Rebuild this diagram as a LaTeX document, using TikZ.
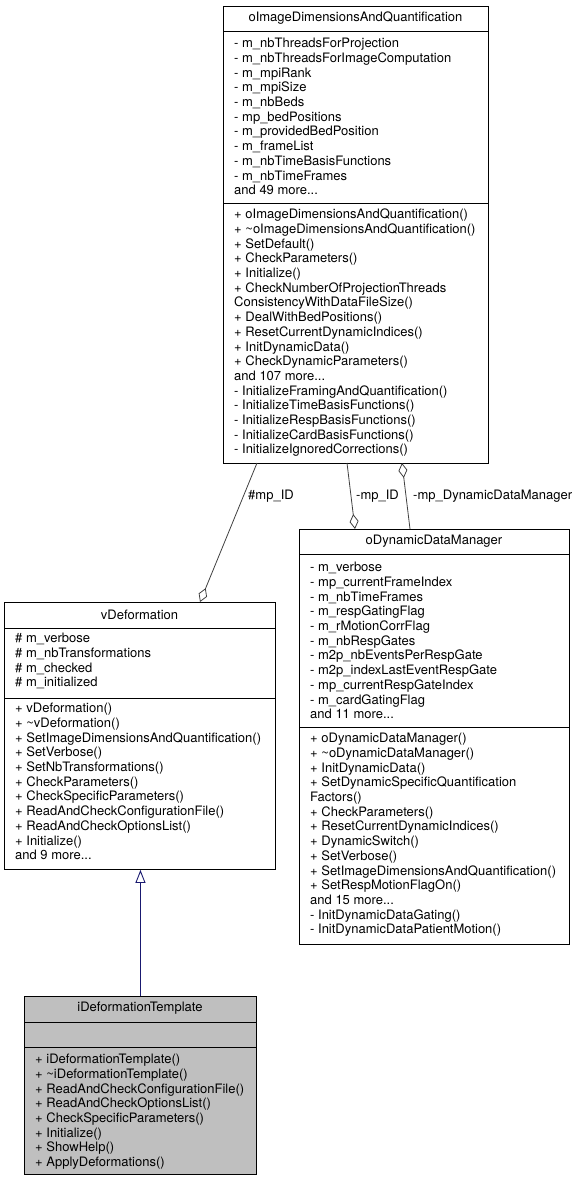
\documentclass[tikz,border=0pt]{standalone}
\usepackage{fontspec}
\setmainfont{TeX Gyre Heros}
\usetikzlibrary{arrows.meta}
\definecolor{edgegray}{HTML}{404040}
\definecolor{inhblue}{HTML}{191970}
\definecolor{boxgray}{HTML}{BFBFBF}
\newcommand\firstln{\rule{0pt}{11pt}}
\begin{document}
\begin{tikzpicture}[x=1pt,y=-1pt,
  every node/.style={font=\fontsize{13}{14.7}\selectfont, text=black},
  umlbox/.style={draw=black, line width=0.9pt, inner sep=0pt, anchor=north west, fill=white},
  sepline/.style={draw=black, line width=0.9pt},
  ttl/.style={anchor=base, inner sep=0pt},
  txt/.style={anchor=north west, align=left, inner sep=0pt},
  lbl/.style={anchor=base west, inner sep=0pt},
  agg/.style={draw=edgegray, line width=0.8pt, -{Diamond[open, length=15pt, width=9pt, line width=0.8pt]}},
  inh/.style={draw=inhblue, line width=0.9pt, -{Triangle[open, length=13pt, width=10pt, line width=0.9pt]}}
]
\useasboundingbox (0,0) rectangle (577,1181);

% ---------- oImageDimensionsAndQuantification ----------
\node[umlbox, minimum width=265pt, minimum height=457pt] (idq) at (223,6) {};
\draw[sepline] (idq.west |- 0,31) -- (idq.east |- 0,31);
\draw[sepline] (idq.west |- 0,203) -- (idq.east |- 0,203);
\node[ttl] (idqt) at (355.5,21.5) {oImageDimensionsAndQuantification};
\node[txt] (idqa) at (234,36.5) {\firstln- m\_nbThreadsForProjection\\
- m\_nbThreadsForImageComputation\\
- m\_mpiRank\\
- m\_mpiSize\\
- m\_nbBeds\\
- mp\_bedPositions\\
- m\_providedBedPosition\\
- m\_frameList\\
- m\_nbTimeBasisFunctions\\
- m\_nbTimeFrames\\
and 49 more...};
\node[txt] (idqm) at (234,207.5) {\firstln+ oImageDimensionsAndQuantification()\\
+ \textasciitilde oImageDimensionsAndQuantification()\\
+ SetDefault()\\
+ CheckParameters()\\
+ Initialize()\\
+ CheckNumberOfProjectionThreads\\
ConsistencyWithDataFileSize()\\
+ DealWithBedPositions()\\
+ ResetCurrentDynamicIndices()\\
+ InitDynamicData()\\
+ CheckDynamicParameters()\\
and 107 more...\\
- InitializeFramingAndQuantification()\\
- InitializeTimeBasisFunctions()\\
- InitializeRespBasisFunctions()\\
- InitializeCardBasisFunctions()\\
- InitializeIgnoredCorrections()};

% ---------- vDeformation ----------
\node[umlbox, minimum width=271pt, minimum height=267pt] (vdef) at (4,602) {};
\draw[sepline] (vdef.west |- 0,628) -- (vdef.east |- 0,628);
\draw[sepline] (vdef.west |- 0,698) -- (vdef.east |- 0,698);
\node[ttl] (vdeft) at (139.5,619.5) {vDeformation};
\node[txt] (vdefa) at (15,631.5) {\firstln\# m\_verbose\\
\# m\_nbTransformations\\
\# m\_checked\\
\# m\_initialized};
\node[txt] (vdefm) at (15,701.5) {\firstln+ vDeformation()\\
+ \textasciitilde vDeformation()\\
+ SetImageDimensionsAndQuantification()\\
+ SetVerbose()\\
+ SetNbTransformations()\\
+ CheckParameters()\\
+ CheckSpecificParameters()\\
+ ReadAndCheckConfigurationFile()\\
+ ReadAndCheckOptionsList()\\
+ Initialize()\\
and 9 more...};

% ---------- oDynamicDataManager ----------
\node[umlbox, minimum width=270pt, minimum height=415pt] (odm) at (299,529) {};
\draw[sepline] (odm.west |- 0,554) -- (odm.east |- 0,554);
\draw[sepline] (odm.west |- 0,727) -- (odm.east |- 0,727);
\node[ttl] (odmt) at (434,544.5) {oDynamicDataManager};
\node[txt] (odma) at (310,560.5) {\firstln- m\_verbose\\
- mp\_currentFrameIndex\\
- m\_nbTimeFrames\\
- m\_respGatingFlag\\
- m\_rMotionCorrFlag\\
- m\_nbRespGates\\
- m2p\_nbEventsPerRespGate\\
- m2p\_indexLastEventRespGate\\
- mp\_currentRespGateIndex\\
- m\_cardGatingFlag\\
and 11 more...};
\node[txt] (odmm) at (310,731.5) {\firstln+ oDynamicDataManager()\\
+ \textasciitilde oDynamicDataManager()\\
+ InitDynamicData()\\
+ SetDynamicSpecificQuantification\\
Factors()\\
+ CheckParameters()\\
+ ResetCurrentDynamicIndices()\\
+ DynamicSwitch()\\
+ SetVerbose()\\
+ SetImageDimensionsAndQuantification()\\
+ SetRespMotionFlagOn()\\
and 15 more...\\
- InitDynamicDataGating()\\
- InitDynamicDataPatientMotion()};

% ---------- iDeformationTemplate ----------
\node[umlbox, fill=boxgray, minimum width=232pt, minimum height=178pt] (idt) at (24,996) {};
\draw[sepline] (idt.west |- 0,1022) -- (idt.east |- 0,1022);
\draw[sepline] (idt.west |- 0,1047) -- (idt.east |- 0,1047);
\node[ttl] (idtt) at (140,1011.5) {iDeformationTemplate};
\node[txt] (idtm) at (35,1052.5) {\firstln+ iDeformationTemplate()\\
+ \textasciitilde iDeformationTemplate()\\
+ ReadAndCheckConfigurationFile()\\
+ ReadAndCheckOptionsList()\\
+ CheckSpecificParameters()\\
+ Initialize()\\
+ ShowHelp()\\
+ ApplyDeformations()};

% ---------- connectors ----------
\coordinate (e1s) at (257,463);
\coordinate (e1t) at (200,602);
\coordinate (e2s) at (347,463);
\coordinate (e2t) at (355,529);
\coordinate (e3s) at (410,529);
\coordinate (e3t) at (402,463);
\draw[agg] (e1s) -- (e1t);
\draw[agg] (e2s) -- (e2t);
\draw[agg] (e3s) -- (e3t);
\node[lbl] (l1) at (248,499.5) {\#mp\_ID};
\node[lbl] (l2) at (356,499.5) {-mp\_ID};
\node[lbl] (l3) at (413,499.5) {-mp\_DynamicDataManager};

\draw[inh] (idt.north) -- (idt.north |- vdef.south);
\end{tikzpicture}
\end{document}
